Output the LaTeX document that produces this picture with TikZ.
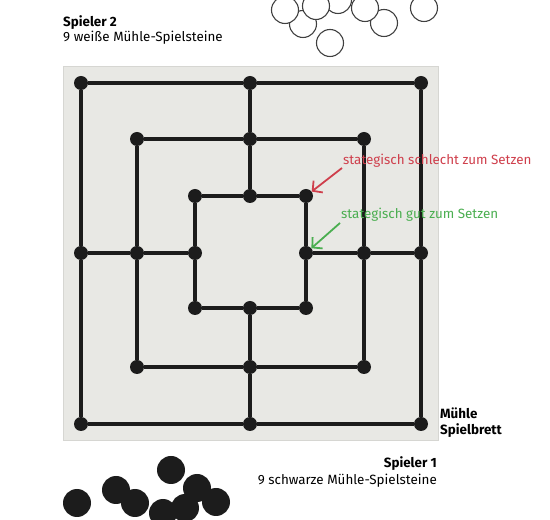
\documentclass[tikz,border=0pt]{standalone}
\usepackage{fontspec}
\setmainfont{Fira Sans}
\usetikzlibrary{arrows.meta}
\definecolor{boardbg}{HTML}{E8E8E4}
\definecolor{boardedge}{HTML}{D6D6D2}
\definecolor{ink}{HTML}{1C1C1C}
\definecolor{badred}{HTML}{CF3F4C}
\definecolor{goodgreen}{HTML}{4AAE50}
\tikzset{
  dot/.style={circle, fill=ink, inner sep=0pt, minimum size=14pt},
  grid/.style={draw=ink, line width=3.8pt},
  wstone/.style={circle, draw=black!75, line width=1.1pt, fill=white, inner sep=0pt, minimum size=27pt},
  bstone/.style={circle, fill=ink, inner sep=0pt, minimum size=28pt},
  lbl/.style={inner sep=0pt, font=\fontsize{13.4}{15}\selectfont},
  blbl/.style={inner sep=0pt, font=\fontsize{13.4}{15}\selectfont\bfseries},
  hint/.style={line width=1.8pt, -{Straight Barb[length=7pt,width=15pt]}}
}
\begin{document}
\begin{tikzpicture}[x=1pt,y=1pt]
\useasboundingbox (0,0) rectangle (550,520);
% board
\node[draw=boardedge, fill=boardbg, line width=0.8pt, minimum width=375pt, minimum height=374pt, inner sep=0pt] (board) at (250.5,267) {};
% outer
\node[dot] (o1) at (81,437) {};
\node[dot] (o2) at (250,437) {};
\node[dot] (o3) at (421,437) {};
\node[dot] (o4) at (421,267) {};
\node[dot] (o5) at (421,96) {};
\node[dot] (o6) at (250,96) {};
\node[dot] (o7) at (81,96) {};
\node[dot] (o8) at (81,267) {};
% middle
\node[dot] (m1) at (137,381) {};
\node[dot] (m2) at (250,381) {};
\node[dot] (m3) at (364,381) {};
\node[dot] (m4) at (364,267) {};
\node[dot] (m5) at (364,153) {};
\node[dot] (m6) at (250,153) {};
\node[dot] (m7) at (137,153) {};
\node[dot] (m8) at (137,267) {};
% inner
\node[dot] (i1) at (195,324) {};
\node[dot] (i2) at (250,324) {};
\node[dot] (i3) at (306,324) {};
\node[dot] (i4) at (306,267) {};
\node[dot] (i5) at (306,212) {};
\node[dot] (i6) at (250,212) {};
\node[dot] (i7) at (195,212) {};
\node[dot] (i8) at (195,267) {};
\foreach \r in {o,m,i}{
  \draw[grid] (\r1) -- (\r2);
  \draw[grid] (\r2) -- (\r3);
  \draw[grid] (\r3) -- (\r4);
  \draw[grid] (\r4) -- (\r5);
  \draw[grid] (\r5) -- (\r6);
  \draw[grid] (\r6) -- (\r7);
  \draw[grid] (\r7) -- (\r8);
  \draw[grid] (\r8) -- (\r1);
}
\foreach \k in {2,4,6,8}{
  \draw[grid] (o\k) -- (m\k);
  \draw[grid] (m\k) -- (i\k);
}
% hints
\node[lbl, anchor=base west, text=badred] (bad) at (343,355) {stategisch schlecht zum Setzen};
\node[lbl, anchor=base west, text=goodgreen] (good) at (341,301) {stategisch gut zum Setzen};
\coordinate (badstart) at (342,352);
\coordinate (goodstart) at (340,297);
\draw[hint, draw=badred] (badstart) -- (i3);
\draw[hint, draw=goodgreen] (goodstart) -- (i4);
% labels
\node[blbl, anchor=base west] (p2) at (63,493) {Spieler 2};
\node[lbl, anchor=base west] (p2t) at (63,478) {9 weiße Mühle-Spielsteine};
\node[blbl, anchor=base west] (mu) at (440,101) {Mühle};
\node[blbl, anchor=base west] (sb) at (440,85) {Spielbrett};
\node[blbl, anchor=base east] (p1) at (437,52) {Spieler 1};
\node[lbl, anchor=base east] (p1t) at (437,35) {9 schwarze Mühle-Spielsteine};
% white stones
\node[wstone] (w1) at (338,520) {};
\node[wstone] (w2) at (303,496) {};
\node[wstone] (w3) at (285,510) {};
\node[wstone] (w4) at (316,514) {};
\node[wstone] (w5) at (384,497) {};
\node[wstone] (w6) at (365,512) {};
\node[wstone] (w7) at (330,477) {};
\node[wstone] (w8) at (424,512) {};
% black stones
\node[bstone] (b1) at (77,17) {};
\node[bstone] (b2) at (116,30) {};
\node[bstone] (b3) at (135,17) {};
\node[bstone] (b4) at (171,50) {};
\node[bstone] (b5) at (197,32) {};
\node[bstone] (b6) at (216,18) {};
\node[bstone] (b7) at (163,7) {};
\node[bstone] (b8) at (185,12) {};
\end{tikzpicture}
\end{document}
